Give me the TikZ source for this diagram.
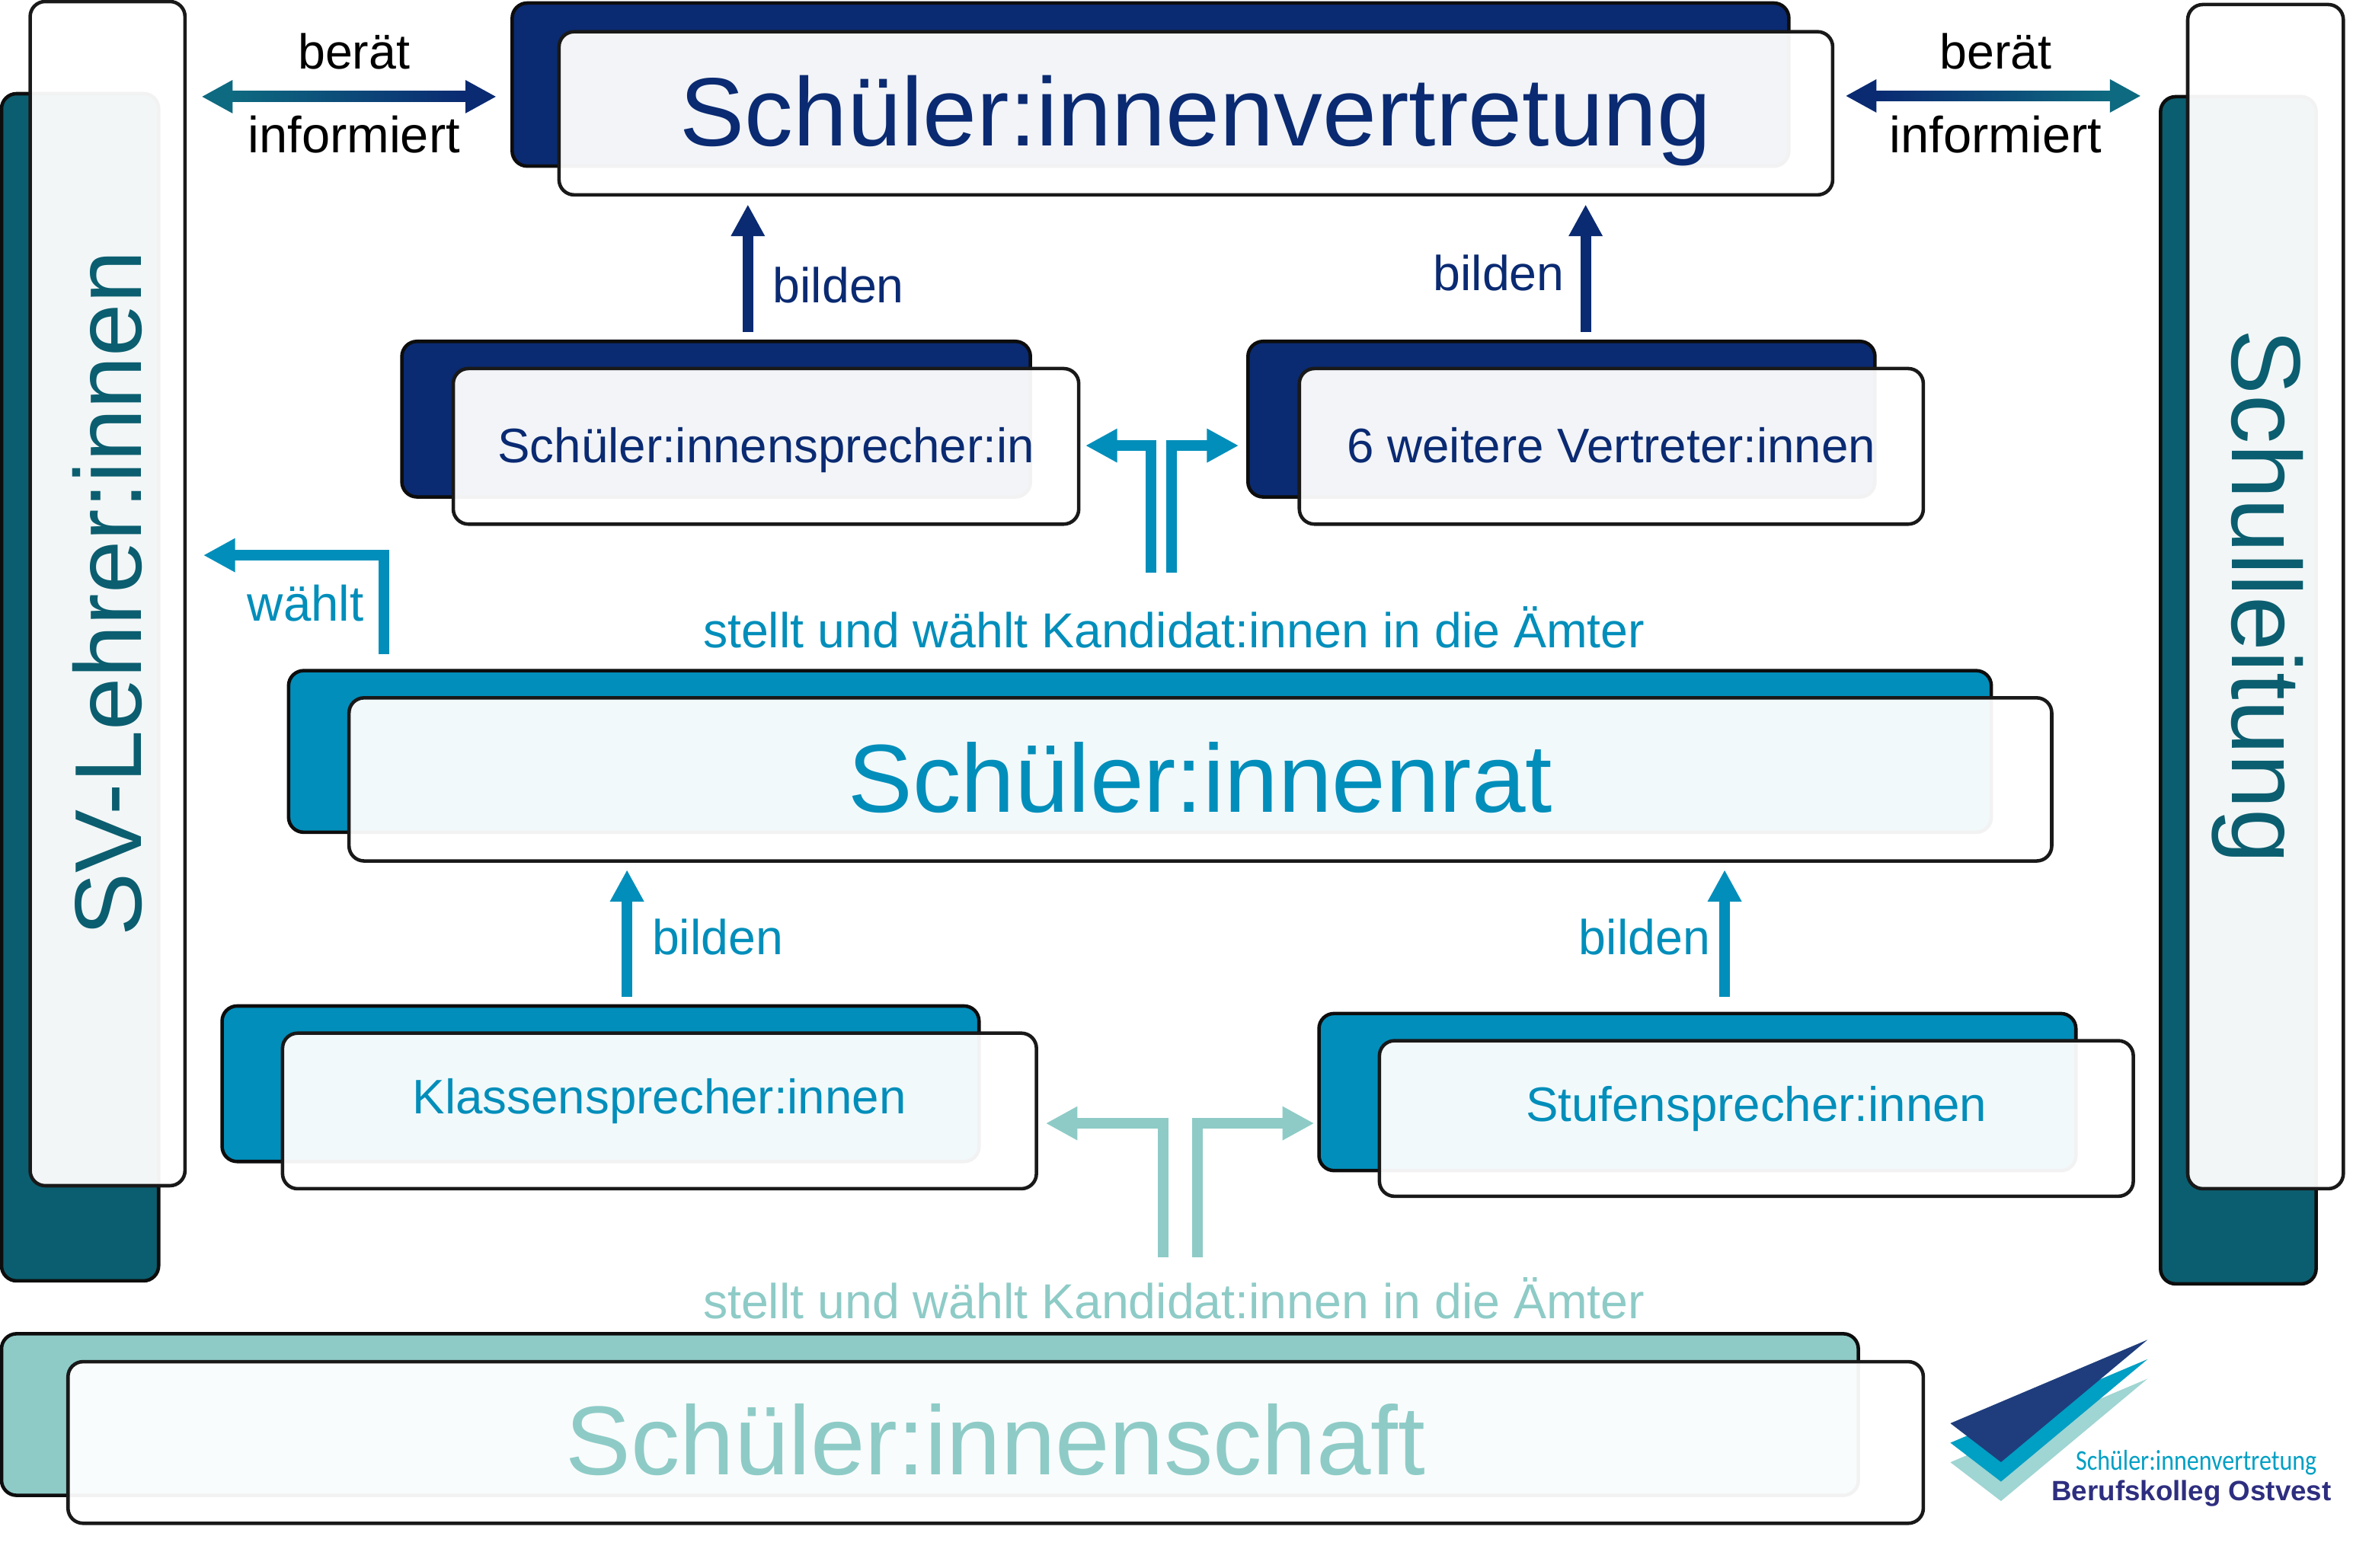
\documentclass[tikz,border=0pt]{standalone}
\usepackage{fontspec}
\setmainfont{Liberation Sans}
\newfontfamily\logofont[FakeStretch=0.85]{Carlito}
\usetikzlibrary{arrows.meta}
\definecolor{svnavy}{HTML}{0A2A72}
\definecolor{svblue}{HTML}{028EBA}
\definecolor{svmint}{HTML}{8ECBC7}
\definecolor{svteal}{HTML}{0B5E6F}
\definecolor{svlink}{HTML}{0E6A80}
\definecolor{logonavy}{HTML}{1F3D7C}
\definecolor{logoblue}{HTML}{009FC4}
\definecolor{logomint}{HTML}{9FD5D3}
\definecolor{logotext}{HTML}{2E2E80}
\tikzset{
  backcard/.style={draw=black!95, line width=2.3pt, rounded corners=10pt, inner sep=0pt},
  frontcard/.style={draw=black!90, line width=2.3pt, rounded corners=10pt, inner sep=0pt,
    fill=white, fill opacity=0.95, text opacity=1},
  bigtext/.style={font=\fontsize{64}{70}\selectfont, text height=43pt, text depth=0pt},
  smalltext/.style={font=\fontsize{32.1}{36}\selectfont, text height=22pt, text depth=0pt},
  label/.style={font=\fontsize{32.5}{36}\selectfont, anchor=base},
  wide/.style={font=\fontsize{33.7}{36}\selectfont},
  pfeil/.style={line width=7pt, -{Triangle[length=21pt,width=21pt]}},
  doppelpfeil/.style 2 args={line width=7pt, {Triangle[length=20.5pt,width=20.5pt,color=#1,fill=#1]}-{Triangle[length=20.5pt,width=20.5pt,color=#2,fill=#2]}}
}
\begin{document}
\begin{tikzpicture}
      [x=1pt, y=-1pt]
      \useasboundingbox (0, 0) rectangle (1568, 1038.1);
      % Seitenkarten
      \node(svback) at (53, 455) [backcard, fill=svteal, minimum width=104pt, minimum height=786pt] {};
      \node(svfront) at (71.2, 393) [frontcard, rotate=90, minimum width=784pt, minimum height=102.5pt, text=svteal, font=\fontsize{62.8}{70}\selectfont, text height=45pt, text depth=0pt] {SV-Lehrer:innen};
      \node(slback) at (1481.5, 457) [backcard, fill=svteal, minimum width=103pt, minimum height=786pt] {};
      \node(slfront) at (1499.5, 395) [frontcard, rotate=-90, minimum width=784pt, minimum height=103pt, text=svteal, font=\fontsize{64.9}{70}\selectfont, text height=44pt, text depth=0pt] {Schulleitung};
      % Karten
      \node(vertback) at (761.5, 56) [backcard, fill=svnavy, minimum width=845pt, minimum height=108pt] {};
      \node(vertfront) at (791.5, 75) [frontcard, bigtext, font=\fontsize{64.3}{70}\selectfont, text=svnavy, minimum width=843pt, minimum height=108pt] {Schüler:innenvertretung};
      \node(sprback) at (474, 277.5) [backcard, fill=svnavy, minimum width=416pt, minimum height=103pt] {};
      \node(sprfront) at (507, 295.5) [frontcard, smalltext, text=svnavy, minimum width=414pt, minimum height=103pt] {Schüler:innensprecher:in};
      \node(weiback) at (1033.5, 277.5) [backcard, fill=svnavy, minimum width=415pt, minimum height=103pt] {};
      \node(weifront) at (1066.5, 295.5) [frontcard, smalltext, text=svnavy, minimum width=413pt, minimum height=103pt] {6 weitere Vertreter:innen};
      \node(ratback) at (754.5, 497.5) [backcard, fill=svblue, minimum width=1127pt, minimum height=107pt] {};
      \node(ratfront) at (794.5, 516) [frontcard, bigtext, text=svblue, minimum width=1127pt, minimum height=108pt] {Schüler:innenrat};
      \node(klback) at (397.5, 717.5) [backcard, fill=svblue, minimum width=501pt, minimum height=103pt] {};
      \node(klfront) at (436.5, 735.5) [frontcard, smalltext, text depth=18pt, text=svblue, minimum width=499pt, minimum height=103pt] {Klassensprecher:innen};
      \node(stback) at (1123.5, 723) [backcard, fill=svblue, minimum width=501pt, minimum height=104pt] {};
      \node(stfront) at (1162.5, 740.5) [frontcard, smalltext, text depth=18pt, text=svblue, minimum width=499pt, minimum height=103pt] {Stufensprecher:innen};
      \node(schback) at (615.5, 936.5) [backcard, fill=svmint, minimum width=1229pt, minimum height=107pt] {};
      \node(schfront) at (659, 955) [frontcard, bigtext, font=\fontsize{64.8}{70}\selectfont, text=svmint, minimum width=1228pt, minimum height=107pt] {Schüler:innenschaft};
      % Hilfspunkte fuer die Pfeile
      \coordinate(h1) at (0, 64);
      \coordinate(h2) at (0, 63.5);
      \coordinate(b1) at (495, 0);
      \coordinate(b2) at (1049.5, 0);
      \coordinate(b3) at (415, 0);
      \coordinate(b4) at (1141.5, 0);
      \coordinate(t1) at (761.8, 379);
      \coordinate(t2) at (775.3, 379);
      \coordinate(t3) at (0, 295);
      \coordinate(k1) at (769.7, 832.3);
      \coordinate(k2) at (792.5, 832.3);
      \coordinate(k3) at (0, 743.7);
      \coordinate(w1) at (254, 367.6);
      % berät / informiert
      \draw[doppelpfeil={svlink}{svnavy}, svnavy, shorten <=9.8pt, shorten >=9.3pt](svfront.south |- h1) -- (vertback.west |- h1);
      \shade[left color=svlink, right color=svnavy] (153.3, 60.5) rectangle (308, 67.5);
      \draw[doppelpfeil={svnavy}{svlink}, svnavy, shorten <=7.3pt, shorten >=11.8pt](vertfront.east |- h2) -- (slback.west |- h2);
      \shade[left color=svnavy, right color=svlink] (1241.8, 60) rectangle (1396.6, 67);
      \node[label](lab1) at (234.3, 45.4) {berät};
      \node[label, wide](lab2) at (234.3, 101.3) {informiert};
      \node[label](lab3) at (1321, 45.4) {berät};
      \node[label, wide](lab4) at (1321, 101.3) {informiert};
      % bilden
      \draw[pfeil, svnavy, shorten <=5pt, shorten >=5.2pt](sprback.north -| b1) -- (vertfront.south -| b1);
      \draw[pfeil, svnavy, shorten <=5pt, shorten >=5.2pt](weiback.north -| b2) -- (vertfront.south -| b2);
      \draw[pfeil, svblue, shorten <=5pt, shorten >=4.7pt](klback.north -| b3) -- (ratfront.south -| b3);
      \draw[pfeil, svblue, shorten <=10pt, shorten >=4.7pt](stback.north -| b4) -- (ratfront.south -| b4);
      \node[label, svnavy](lab5) at (555, 200.3) {bilden};
      \node[label, svnavy](lab6) at (992, 192.3) {bilden};
      \node[label, svblue](lab7) at (475, 632) {bilden};
      \node[label, svblue](lab8) at (1088.5, 632) {bilden};
      % stellt und waehlt
      \draw[pfeil, svblue, shorten >=3.3pt](t1) |- (sprfront.east |- t3);
      \draw[pfeil, svblue, shorten >=5pt](t2) |- (weiback.west |- t3);
      \draw[pfeil, svmint, shorten >=5pt](k1) |- (klfront.east |- k3);
      \draw[pfeil, svmint, shorten >=2pt](k2) |- (stback.west |- k3);
      \node[label, svblue](lab9) at (777, 429) {stellt und wählt Kandidat:innen in die Ämter};
      \node[label, svmint](lab10) at (777, 873) {stellt und wählt Kandidat:innen in die Ämter};
      % waehlt
      \draw[pfeil, svblue, shorten <=9.6pt, shorten >=11pt](ratback.north -| w1) |- (svfront.south |- w1);
      \node[label, svblue, font=\fontsize{33}{36}\selectfont](lab11) at (202.3, 411.4) {wählt};
      % Logo
      \foreach \col/\dy in {logomint/25.8, logoblue/12.9, logonavy/0}
        \fill[\col] (1421.4, 887+\dy) -- (1290.9, 942.3+\dy) -- (1324.4, 968+\dy) -- cycle;
      \node[anchor=base, text=logoblue, font=\logofont\fontsize{19}{20}\selectfont](logo1) at (1453.6, 973.4) {Schüler:innenvertretung};
      \node[anchor=base, text=logotext, font=\bfseries\fontsize{18.5}{20}\selectfont](logo2) at (1450.5, 993.5) {Berufskolleg Ostvest};
  \end{tikzpicture}
\end{document}
